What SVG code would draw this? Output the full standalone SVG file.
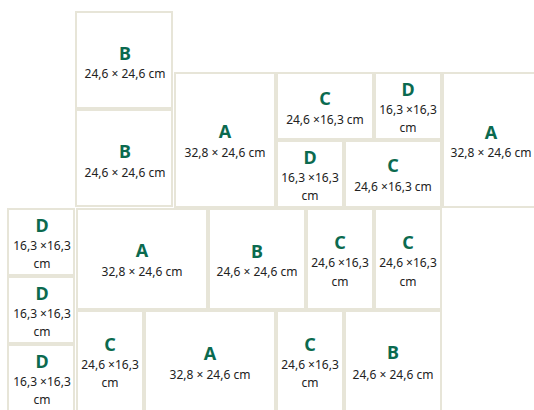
<svg xmlns="http://www.w3.org/2000/svg" width="534" height="410" viewBox="0 0 534 410">
<style>
.t{fill:#ffffff;stroke:#e7e5d8;stroke-width:2}
.l{font-family:"Noto Sans","Liberation Sans",sans-serif;font-weight:700;font-size:18px;fill:#0b6a4f;text-anchor:middle}
.d{font-family:"Noto Sans","Liberation Sans",sans-serif;font-size:12px;fill:#222222;text-anchor:middle}
</style>
<rect width="534" height="410" fill="#ffffff"/>
<g id="tile-b1"><rect class="t" x="76" y="12" width="96" height="96"/><text class="l" x="125" y="60">B</text><text class="d" x="125" y="78">24,6 × 24,6 cm</text></g>
<g id="tile-b2"><rect class="t" x="76" y="110" width="96" height="96"/><text class="l" x="125" y="158">B</text><text class="d" x="125" y="177">24,6 × 24,6 cm</text></g>
<g id="tile-a1"><rect class="t" x="175" y="73" width="100" height="134"/><text class="l" x="225" y="138">A</text><text class="d" x="225" y="157">32,8 × 24,6 cm</text></g>
<g id="tile-c1"><rect class="t" x="277" y="73" width="96" height="66"/><text class="l" x="325" y="105">C</text><text class="d" x="325" y="124">24,6 ×16,3 cm</text></g>
<g id="tile-d1"><rect class="t" x="375" y="73" width="66" height="66"/><text class="l" x="408" y="96">D</text><text class="d" x="408" y="114">16,3 ×16,3</text><text class="d" x="408" y="132">cm</text></g>
<g id="tile-d2"><rect class="t" x="277" y="141" width="66" height="66"/><text class="l" x="310" y="164">D</text><text class="d" x="310" y="182">16,3 ×16,3</text><text class="d" x="310" y="200">cm</text></g>
<g id="tile-c2"><rect class="t" x="345" y="141" width="96" height="66"/><text class="l" x="393" y="172">C</text><text class="d" x="393" y="191">24,6 ×16,3 cm</text></g>
<g id="tile-a2"><rect class="t" x="443" y="73" width="110" height="134"/><text class="l" x="491" y="139">A</text><text class="d" x="491" y="157">32,8 × 24,6 cm</text></g>
<g id="tile-d3"><rect class="t" x="8" y="209" width="66" height="66"/><text class="l" x="42" y="232">D</text><text class="d" x="42" y="250">16,3 ×16,3</text><text class="d" x="42" y="268">cm</text></g>
<g id="tile-d4"><rect class="t" x="8" y="277" width="66" height="66"/><text class="l" x="42" y="300">D</text><text class="d" x="42" y="318">16,3 ×16,3</text><text class="d" x="42" y="336">cm</text></g>
<g id="tile-d5"><rect class="t" x="8" y="345" width="66" height="70"/><text class="l" x="42" y="368">D</text><text class="d" x="42" y="386">16,3 ×16,3</text><text class="d" x="42" y="404">cm</text></g>
<g id="tile-a3"><rect class="t" x="77" y="209" width="130" height="100"/><text class="l" x="142" y="257">A</text><text class="d" x="142" y="276">32,8 × 24,6 cm</text></g>
<g id="tile-b3"><rect class="t" x="209" y="209" width="96" height="100"/><text class="l" x="257" y="258">B</text><text class="d" x="257" y="276">24,6 × 24,6 cm</text></g>
<g id="tile-c3"><rect class="t" x="307" y="209" width="66" height="100"/><text class="l" x="340" y="249">C</text><text class="d" x="340" y="267">24,6 ×16,3</text><text class="d" x="340" y="286">cm</text></g>
<g id="tile-c4"><rect class="t" x="375" y="209" width="66" height="100"/><text class="l" x="408" y="249">C</text><text class="d" x="408" y="267">24,6 ×16,3</text><text class="d" x="408" y="286">cm</text></g>
<g id="tile-c5"><rect class="t" x="77" y="311" width="66" height="104"/><text class="l" x="110" y="351">C</text><text class="d" x="110" y="369">24,6 ×16,3</text><text class="d" x="110" y="387">cm</text></g>
<g id="tile-a4"><rect class="t" x="145" y="311" width="130" height="104"/><text class="l" x="210" y="360">A</text><text class="d" x="210" y="379">32,8 × 24,6 cm</text></g>
<g id="tile-c6"><rect class="t" x="277" y="311" width="66" height="104"/><text class="l" x="310" y="351">C</text><text class="d" x="310" y="369">24,6 ×16,3</text><text class="d" x="310" y="387">cm</text></g>
<g id="tile-b4"><rect class="t" x="345" y="311" width="96" height="104"/><text class="l" x="393" y="359">B</text><text class="d" x="393" y="379">24,6 × 24,6 cm</text></g>
<g id="connectors"></g>
</svg>
